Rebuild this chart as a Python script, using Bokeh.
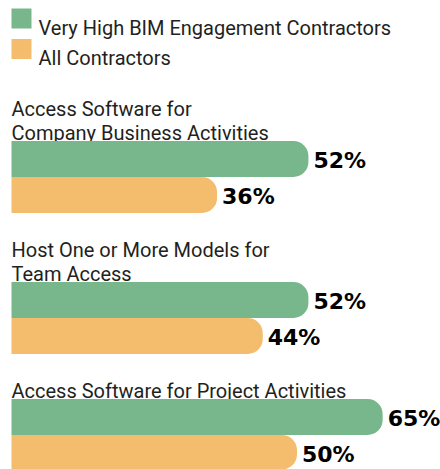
from bokeh.plotting import figure
from bokeh.models import Range1d, ColumnDataSource
from bokeh.core.properties import value
from bokeh.embed import file_html
from bokeh.resources import INLINE

# ---- data ----
categories = [
    ["Access Software for", "Company Business Activities"],
    ["Host One or More Models for", "Team Access"],
    ["Access Software for Project Activities"],
]
series_names = ["Very High BIM Engagement Contractors", "All Contractors"]
very_high = [52, 52, 65]
all_contractors = [36, 44, 50]
colors = ["#78B78C", "#F3BD6D"]

# ---- layout constants (pixels) ----
W, H = 440, 469
PX_PER_PCT = 5.71
LEFT_PAD = 11
BAR_H = 36
LINE_H = 24
GAP_BEFORE_TITLE = 36.5
TITLE_TO_BAR = 8.5
LEGEND_BOTTOM = 71.5

p = figure(width=W, height=H, output_backend="svg", toolbar_location=None,
           x_range=Range1d(-LEFT_PAD / PX_PER_PCT, (W - LEFT_PAD) / PX_PER_PCT),
           y_range=Range1d(H, 0), min_border=0)
p.axis.visible = False
p.grid.visible = False
p.outline_line_color = None
p.background_fill_color = None
p.border_fill_color = None

label_font = value("Roboto")
txt_color = "#231F20"

# legend
leg_y = [18, 48.5]
p.scatter(x=[(21 - LEFT_PAD) / PX_PER_PCT] * 2, y=leg_y,
          marker="square", size=20, color=colors, line_color=None)
p.text(x=[(38 - LEFT_PAD) / PX_PER_PCT] * 2, y=[y + 9 for y in leg_y], text=series_names,
       text_font=label_font, text_font_size="20px", text_color=txt_color,
       text_baseline="alphabetic", text_align="left")

# groups
title_x, title_y, title_t = [], [], []
bar_y, bar_r, bar_c, lab_t = [], [], [], []
cursor = LEGEND_BOTTOM
for cat, v1, v2 in zip(categories, very_high, all_contractors):
    base = cursor + GAP_BEFORE_TITLE
    for i, line in enumerate(cat):
        title_x.append(0)
        title_y.append(base + i * LINE_H)
        title_t.append(line)
    top = base + (len(cat) - 1) * LINE_H + TITLE_TO_BAR
    bar_y += [top + BAR_H / 2, top + 1.5 * BAR_H]
    bar_r += [v1, v2]
    bar_c += colors
    lab_t += [f"{v1}%", f"{v2}%"]
    cursor = top + 2 * BAR_H

p.text(x=title_x, y=title_y, text=title_t, text_font=label_font, text_font_size="20px",
       text_color=txt_color, text_baseline="alphabetic", text_align="left")

src = ColumnDataSource(dict(y=bar_y, right=bar_r, color=bar_c, label=lab_t))
p.hbar(y="y", left=0, right="right", height=BAR_H, color="color", line_color=None,
       border_radius=(0, 15, 15, 0), source=src)
p.text(x="right", y="y", text="label", source=src, x_offset=5, y_offset=1,
       text_font=value("DejaVu Sans"), text_font_style="bold", text_font_size="22px",
       text_color="#000000", text_baseline="middle", text_align="left")

open("out.html", "w").write(file_html(p, INLINE))
